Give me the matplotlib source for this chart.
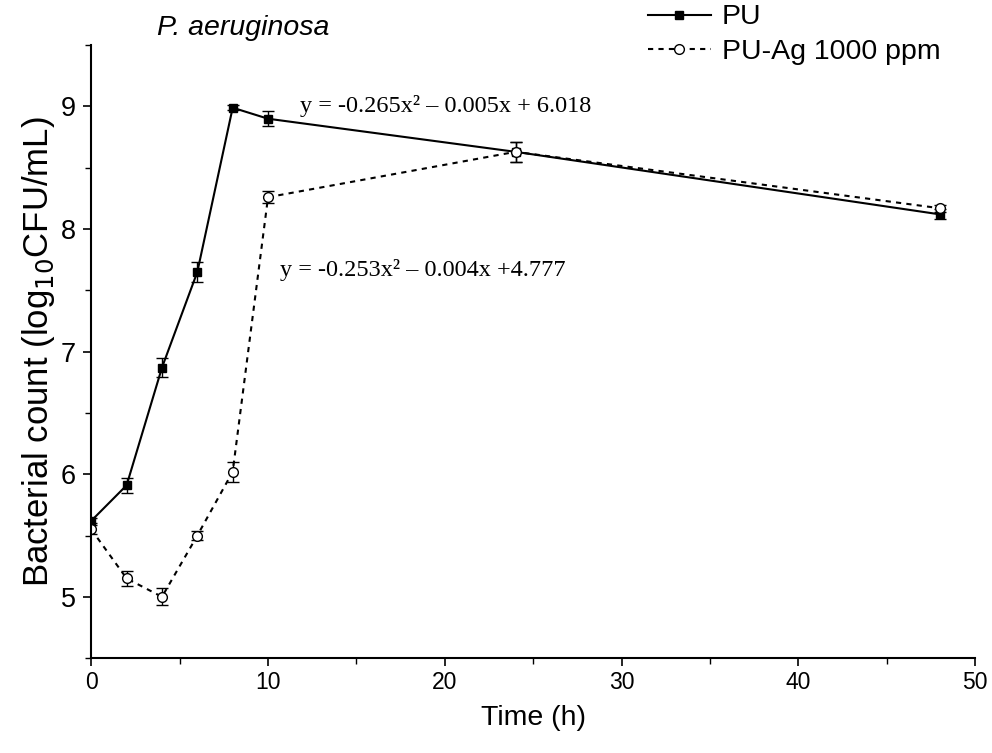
import numpy as np
import matplotlib
matplotlib.use('Agg')
from matplotlib import pyplot as plt
from matplotlib.ticker import MultipleLocator
from matplotlib.lines import Line2D

time_h = [0, 2, 4, 6, 8, 10, 24, 48]
pu = [5.62, 5.91, 6.87, 7.65, 8.99, 8.90, 8.63, 8.12]
pu_err = [0.02, 0.06, 0.08, 0.08, 0.02, 0.06, 0.08, 0.04]
puag = [5.55, 5.15, 5.00, 5.50, 6.02, 8.26, 8.63, 8.17]
puag_err = [0.04, 0.06, 0.07, 0.04, 0.08, 0.05, 0.08, 0.03]

plt.rcParams['font.family'] = ['Liberation Sans', 'DejaVu Sans']
fig = plt.figure(figsize=(9.92, 7.53), dpi=100)
ax = fig.add_axes([0.092, 0.126, 0.891, 0.814])

dash = (0, (2.5, 2.5))
ax.errorbar(time_h, pu, yerr=pu_err, color='k', ls='-', lw=1.5, marker='s',
            markersize=6, capsize=4, elinewidth=1)
ax.errorbar(time_h, puag, yerr=puag_err, color='k', ls=dash, lw=1.5,
            marker='o', markersize=7, markerfacecolor='white', capsize=4,
            elinewidth=1)

ax.set_xlim(0, 50)
ax.set_ylim(4.5, 9.5)
ax.xaxis.set_major_locator(MultipleLocator(10))
ax.xaxis.set_minor_locator(MultipleLocator(5))
ax.yaxis.set_minor_locator(MultipleLocator(0.5))
ax.set_yticks([5, 6, 7, 8, 9])
ax.spines['top'].set_visible(False)
ax.spines['right'].set_visible(False)
ax.spines['left'].set_linewidth(1.5)
ax.spines['bottom'].set_linewidth(1.5)
ax.tick_params(which='major', length=6, width=1.2, direction='out')
ax.tick_params(which='minor', length=4, width=1.0, direction='out')
ax.tick_params(axis='x', labelsize=16.5)
ax.tick_params(axis='y', labelsize=19.5, pad=5)

ax.set_xlabel('Time (h)', fontsize=20.5, labelpad=8)
ax.set_ylabel('Bacterial count (log$_{10}$CFU/mL)', fontsize=25, labelpad=3)

ax.text(3.7, 9.58, 'P. aeruginosa', fontsize=20.5, style='italic', clip_on=False)
ax.text(11.8, 9.0, 'y = -0.265x² – 0.005x + 6.018', fontsize=17.5,
        family='Liberation Serif', va='center')
ax.text(10.7, 7.67, 'y = -0.253x² – 0.004x +4.777', fontsize=17.5,
        family='Liberation Serif', va='center')

handles = [Line2D([], [], color='k', ls='-', lw=1.5, marker='s', markersize=6),
           Line2D([], [], color='k', ls=dash, lw=1.5, marker='o', markersize=7,
                  markerfacecolor='white')]
ax.legend(handles, ['PU', 'PU-Ag 1000 ppm'], loc='upper left',
          bbox_to_anchor=(0.617, 1.085), frameon=False, fontsize=20.5,
          handlelength=2.2, handletextpad=0.4, labelspacing=0.3,
          borderaxespad=0)

fig.savefig('out.png', dpi=100)
